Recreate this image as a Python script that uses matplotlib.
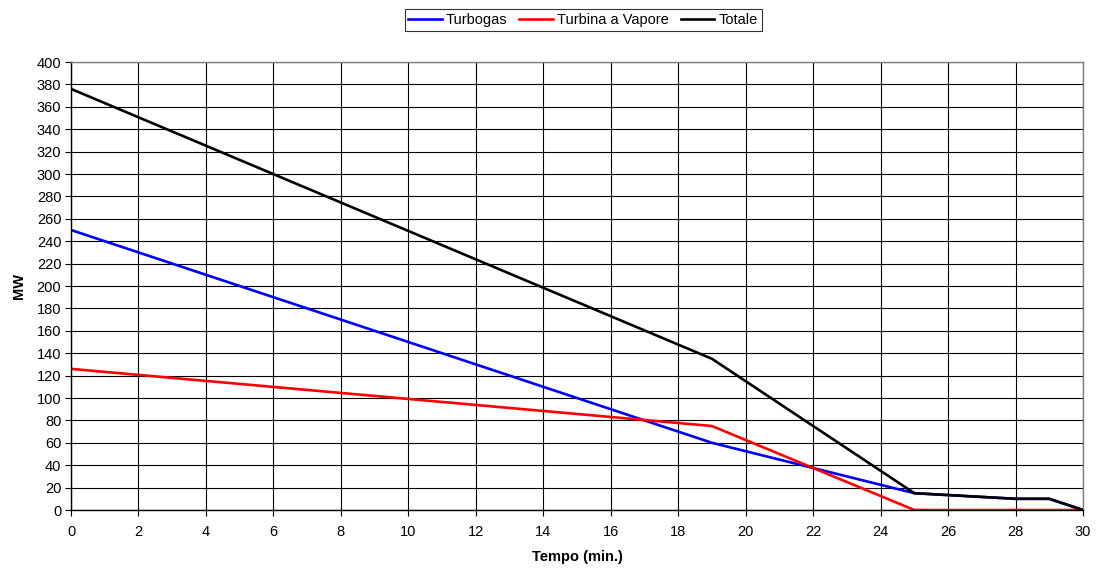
import matplotlib
matplotlib.use("Agg")
import matplotlib.pyplot as plt

plt.rcParams['font.family'] = ['Liberation Sans', 'DejaVu Sans']

# Power output (MW) versus time (min.)
tempo_gas = [0, 19, 25, 28, 29, 30]
turbogas = [250, 60, 15, 10, 10, 0]

tempo_vap = [0, 19, 25, 30]
vapore = [126, 75, 0, 0]

tempo_tot = [0, 19, 25, 28, 29, 30]
totale = [376, 135, 15, 10, 10, 0]

x_ticks = list(range(0, 31, 2))
y_ticks = list(range(0, 401, 20))

fig = plt.figure(figsize=(10.96, 5.68), dpi=100)
ax = fig.add_axes([71 / 1096, 58 / 568, 1012 / 1096, 448 / 568])

ax.plot(tempo_gas, turbogas, color='#0000ff', lw=1.9, label='Turbogas')
ax.plot(tempo_vap, vapore, color='#ff0000', lw=1.9, label='Turbina a Vapore')
ax.plot(tempo_tot, totale, color='#000000', lw=1.9, label='Totale')

ax.set_xlim(0, 30)
ax.set_ylim(0, 400)
ax.set_xticks(x_ticks)
ax.set_yticks(y_ticks)
ax.grid(True, color='black', lw=0.8)
ax.set_axisbelow(True)

for side in ('left', 'bottom'):
    ax.spines[side].set_color('black')
    ax.spines[side].set_linewidth(1.0)
for side in ('top', 'right'):
    ax.spines[side].set_color('#808080')
    ax.spines[side].set_linewidth(1.0)

ax.tick_params(axis='both', direction='out', length=4, width=0.8,
               labelsize=10.5, colors='black')
ax.tick_params(axis='x', pad=7)
ax.tick_params(axis='y', pad=3)

ax.set_xlabel('Tempo (min.)', fontsize=10.5, fontweight='bold', labelpad=8)
ax.set_ylabel('MW', fontsize=10.5, fontweight='bold', labelpad=8)

leg = fig.legend(loc='center', bbox_to_anchor=(583 / 1096, 1 - 20 / 568),
                 ncol=3, fontsize=10.5, frameon=True, fancybox=False,
                 handlelength=2.3, handletextpad=0.3, columnspacing=0.8,
                 borderpad=0.25, borderaxespad=0)
leg.get_frame().set_edgecolor('black')
leg.get_frame().set_linewidth(0.8)

fig.savefig('out.png', dpi=100)
